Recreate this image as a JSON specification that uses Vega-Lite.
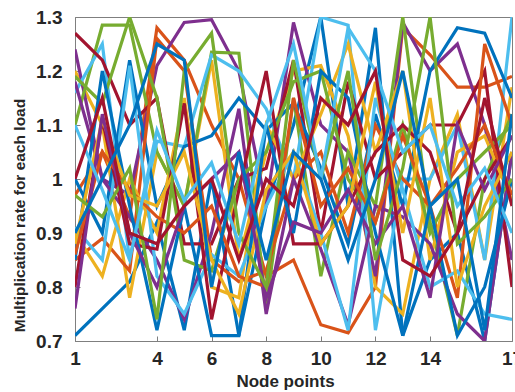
{
  "$schema": "https://vega.github.io/schema/vega-lite/v6.json",
  "width": 437,
  "height": 324,
  "autosize": "none",
  "padding": {"left": 75, "top": 17, "right": 3, "bottom": 51},
  "background": "white",
  "config": {
    "view": {"stroke": "#7f7f7f", "strokeWidth": 1},
    "axis": {"labelFont": "Liberation Sans", "titleFont": "Liberation Sans", "labelFontWeight": "bold", "titleFontWeight": "bold", "labelColor": "#262626", "titleColor": "#262626", "labelFontSize": 19, "titleFontSize": 17, "domainColor": "#7f7f7f", "tickColor": "#7f7f7f", "grid": false}
  },
  "data": {"values": [
    {"s": "s01", "x": [1,2,3,4,5,6,7,8,9,10,11,12,13,14,15,16,17], "y": [0.71,0.76,0.81,0.92,0.72,1.0,0.71,0.95,1.1,1.3,0.95,1.28,0.71,0.85,0.9,0.70,1.05]},
    {"s": "s02", "x": [1,2,3,4,5,6,7,8,9,10,11,12,13,14,15,16,17], "y": [0.97,1.05,0.93,1.28,1.22,1.1,1.0,0.82,0.85,0.73,0.715,0.8,1.28,1.23,1.17,1.17,1.19]},
    {"s": "s03", "x": [1,2,3,4,5,6,7,8,9,10,11,12,13,14,15,16,17], "y": [1.2,1.1,0.78,1.05,0.95,1.22,0.85,1.05,1.2,1.21,1.08,0.8,0.75,1.0,1.12,0.85,1.17]},
    {"s": "s04", "x": [1,2,3,4,5,6,7,8,9,10,11,12,13,14,15,16,17], "y": [1.24,1.0,0.97,1.21,1.29,1.295,1.2,0.95,1.29,1.1,1.05,0.82,1.29,1.2,1.25,1.1,0.85]},
    {"s": "s05", "x": [1,2,3,4,5,6,7,8,9,10,11,12,13,14,15,16,17], "y": [1.1,1.285,1.285,1.05,0.95,1.235,1.233,0.76,1.15,0.82,1.05,0.95,1.3,0.92,0.71,1.0,1.12]},
    {"s": "s06", "x": [1,2,3,4,5,6,7,8,9,10,11,12,13,14,15,16,17], "y": [1.16,1.25,0.85,1.07,1.06,1.23,1.2,1.13,1.0,1.3,1.285,0.72,1.0,1.0,1.1,0.85,1.3]},
    {"s": "s07", "x": [1,2,3,4,5,6,7,8,9,10,11,12,13,14,15,16,17], "y": [1.27,1.22,1.1,1.15,0.88,0.88,1.0,1.02,1.22,0.9,1.18,1.0,1.05,1.1,1.1,1.2,0.8]},
    {"s": "s08", "x": [1,2,3,4,5,6,7,8,9,10,11,12,13,14,15,16,17], "y": [1.0,0.9,1.22,0.95,1.06,1.08,1.15,1.09,1.14,1.02,0.88,1.12,0.95,1.2,1.28,1.27,1.15]},
    {"s": "s09", "x": [1,2,3,4,5,6,7,8,9,10,11,12,13,14,15,16,17], "y": [0.85,0.89,0.83,1.26,1.2,0.85,0.81,0.83,1.0,1.05,0.9,1.1,1.0,0.95,0.78,1.25,1.1]},
    {"s": "s10", "x": [1,2,3,4,5,6,7,8,9,10,11,12,13,14,15,16,17], "y": [0.9,0.82,1.0,0.9,1.15,0.8,0.78,1.1,1.0,1.12,1.25,1.05,1.2,0.85,1.05,1.08,0.96]},
    {"s": "s11", "x": [1,2,3,4,5,6,7,8,9,10,11,12,13,14,15,16,17], "y": [1.18,1.0,0.93,0.85,0.74,0.9,1.13,0.75,1.0,0.87,0.73,0.95,0.93,0.88,0.75,0.7,1.05]},
    {"s": "s12", "x": [1,2,3,4,5,6,7,8,9,10,11,12,13,14,15,16,17], "y": [1.19,1.14,1.3,1.15,0.85,0.83,1.0,1.05,1.18,1.2,1.0,0.92,1.1,0.9,1.0,1.05,1.1]},
    {"s": "s13", "x": [1,2,3,4,5,6,7,8,9,10,11,12,13,14,15,16,17], "y": [0.91,0.85,1.21,0.82,0.75,0.86,0.82,0.95,1.05,0.9,0.72,1.15,0.98,0.8,0.83,0.75,0.74]},
    {"s": "s14", "x": [1,2,3,4,5,6,7,8,9,10,11,12,13,14,15,16,17], "y": [0.8,1.11,0.88,0.87,1.14,0.74,0.98,1.2,0.88,0.88,0.95,1.05,1.1,1.05,0.9,1.0,1.08]},
    {"s": "s15", "x": [1,2,3,4,5,6,7,8,9,10,11,12,13,14,15,16,17], "y": [0.85,1.2,0.95,0.72,0.95,0.71,0.71,1.1,0.9,1.2,1.15,0.9,0.71,0.95,0.71,0.8,1.0]},
    {"s": "s16", "x": [1,2,3,4,5,6,7,8,9,10,11,12,13,14,15,16,17], "y": [0.86,1.05,0.98,0.93,0.9,0.95,0.82,0.8,1.15,0.95,1.02,0.92,1.08,0.95,1.02,1.1,0.97]},
    {"s": "s17", "x": [1,2,3,4,5,6,7,8,9,10,11,12,13,14,15,16,17], "y": [0.88,1.11,0.97,0.95,1.05,0.85,0.75,0.98,1.05,0.88,0.95,1.18,0.9,1.15,0.8,0.95,1.05]},
    {"s": "s18", "x": [1,2,3,4,5,6,7,8,9,10,11,12,13,14,15,16,17], "y": [0.76,1.12,0.9,0.8,0.95,1.0,1.05,0.78,0.92,0.9,0.98,0.88,0.95,0.78,1.1,0.98,1.08]},
    {"s": "s19", "x": [1,2,3,4,5,6,7,8,9,10,11,12,13,14,15,16,17], "y": [0.97,0.93,1.02,0.74,1.2,1.27,0.9,0.8,1.22,1.0,1.2,0.85,1.02,1.3,0.88,0.93,1.0]},
    {"s": "s20", "x": [1,2,3,4,5,6,7,8,9,10,11,12,13,14,15,16,17], "y": [1.1,0.98,0.85,1.09,0.96,1.03,0.88,1.1,1.25,1.0,1.28,1.2,1.05,1.1,0.95,1.02,0.9]},
    {"s": "s21", "x": [1,2,3,4,5,6,7,8,9,10,11,12,13,14,15,16,17], "y": [1.0,1.15,0.9,0.88,0.95,1.0,0.85,1.0,0.95,1.15,1.1,1.2,0.85,0.82,0.9,1.15,0.95]},
    {"s": "s22", "x": [1,2,3,4,5,6,7,8,9,10,11,12,13,14,15,16,17], "y": [0.9,1.0,1.1,1.25,1.22,0.8,1.05,0.85,1.05,1.0,0.85,1.0,1.2,0.95,1.0,0.72,1.12]}
  ]},
  "transform": [{"flatten": ["x", "y"]}],
  "mark": {"type": "line", "strokeWidth": 3.2, "clip": true},
  "encoding": {
    "x": {"field": "x", "type": "quantitative", "scale": {"domain": [1, 17], "nice": false, "zero": false},
      "axis": {"title": "Node points", "values": [1,4,6,8,10,12,14,17], "tickSize": -5, "labelPadding": 13, "titlePadding": 5, "titleX": 210, "labelFlush": false}},
    "y": {"field": "y", "type": "quantitative", "scale": {"domain": [0.7, 1.3], "nice": false, "zero": false},
      "axis": {"title": "Multiplication rate for each load", "titleFontSize": 15.5, "titleY": 198, "values": [0.7,0.8,0.9,1.0,1.1,1.2,1.3], "format": ".1~f", "tickSize": -5, "labelPadding": 18, "titlePadding": 8}},
    "color": {"field": "s", "type": "nominal", "legend": null,
      "scale": {"domain": ["s01","s02","s03","s04","s05","s06","s07","s08","s09","s10","s11","s12","s13","s14","s15","s16","s17","s18","s19","s20","s21","s22"],
        "range": ["#0072BD","#D95319","#EDB120","#7E2F8E","#77AC30","#4DBEEE","#A2142F","#0072BD","#D95319","#EDB120","#7E2F8E","#77AC30","#4DBEEE","#A2142F","#0072BD","#D95319","#EDB120","#7E2F8E","#77AC30","#4DBEEE","#A2142F","#0072BD"]}}
  }
}
